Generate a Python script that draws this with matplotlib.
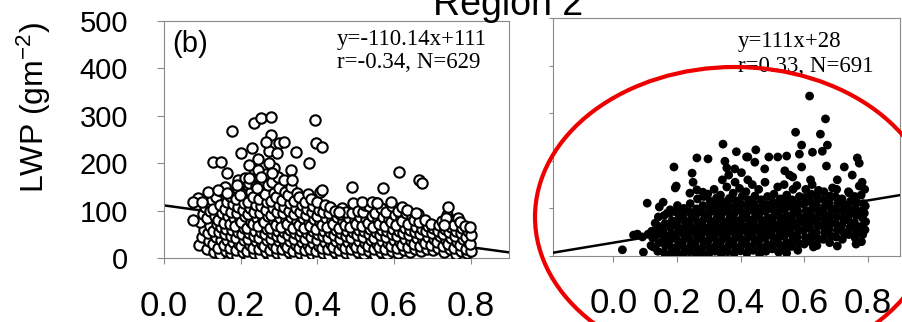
import matplotlib
matplotlib.use('Agg')
import matplotlib.pyplot as plt
import numpy as np
from matplotlib.patches import Ellipse

plt.rcParams['font.family'] = ['Liberation Sans', 'DejaVu Sans']
plt.rcParams['mathtext.fontset'] = 'custom'
plt.rcParams['mathtext.rm'] = 'Liberation Sans'
plt.rcParams['mathtext.it'] = 'Liberation Sans:italic'
plt.rcParams['mathtext.bf'] = 'Liberation Sans:bold'

# ---------------- data ----------------
title_text = "Region 2"
ylabel_text = "LWP (gm$^{-2}$)"
x_ticks = [0.0, 0.2, 0.4, 0.6, 0.8]
x_tick_labels = ["0.0", "0.2", "0.4", "0.6", "0.8"]
y_ticks = [0, 100, 200, 300, 400, 500]
y_tick_labels = ["0", "100", "200", "300", "400", "500"]

left_slope, left_icept = -110.14, 111
right_slope, right_icept = 111, 28
left_eq = ["y=-110.14x+111", "r=-0.34, N=629"]
right_eq = ["y=111x+28", "r=0.33, N=691"]
panel_label = "(b)"

# Left panel (open circles): isolated points
open_out_x = [0.075, 0.088, 0.075, 0.099, 0.114, 0.127, 0.148, 0.164, 0.177, 0.140,
              0.164, 0.190, 0.197, 0.200, 0.229, 0.236, 0.254, 0.278, 0.280, 0.267,
              0.301, 0.314, 0.345, 0.294, 0.223, 0.244, 0.275, 0.283, 0.332, 0.335,
              0.223, 0.242, 0.254, 0.395, 0.397, 0.413, 0.379, 0.413, 0.491, 0.571,
              0.613, 0.665, 0.673, 0.740, 0.592, 0.620, 0.634, 0.657, 0.457, 0.517,
              0.543, 0.556, 0.735, 0.730, 0.190]
open_out_y = [80, 127, 118, 118, 139, 203, 203, 179, 268, 143,
              137, 148, 133, 222, 232, 285, 295, 297, 259, 245,
              243, 245, 224, 221, 196, 186, 200, 179, 186, 165,
              169, 148, 171, 291, 243, 234, 200, 143, 150, 148,
              182, 165, 158, 108, 118, 108, 101, 95, 97, 118,
              118, 116, 84, 70, 154]

# Left panel (open circles): dense core
open_core_x = [
    0.092, 0.098, 0.104, 0.095, 0.101, 0.108,
    0.112, 0.118, 0.115, 0.121, 0.113, 0.119, 0.124,
    0.131, 0.127, 0.135, 0.129, 0.137, 0.133, 0.128, 0.136,
    0.146, 0.142, 0.150, 0.144, 0.148, 0.141, 0.152, 0.145, 0.149,
    0.161, 0.157, 0.165, 0.159, 0.163, 0.156, 0.167, 0.160, 0.164, 0.158,
    0.176, 0.172, 0.180, 0.174, 0.178, 0.171, 0.182, 0.175, 0.179, 0.173,
    0.191, 0.187, 0.195, 0.189, 0.193, 0.186, 0.197, 0.190, 0.194, 0.188, 0.196, 0.192,
    0.206, 0.202, 0.210, 0.204, 0.208, 0.201, 0.212, 0.205, 0.209, 0.203, 0.211,
    0.221, 0.217, 0.225, 0.219, 0.223, 0.216, 0.227, 0.220, 0.224, 0.218, 0.226, 0.222,
    0.236, 0.232, 0.240, 0.234, 0.238, 0.231, 0.242, 0.235, 0.239, 0.233, 0.241, 0.237,
    0.251, 0.247, 0.255, 0.249, 0.253, 0.246, 0.257, 0.250, 0.254, 0.248, 0.256, 0.252, 0.245,
    0.266, 0.262, 0.270, 0.264, 0.268, 0.261, 0.272, 0.265, 0.269, 0.263, 0.271, 0.267,
    0.281, 0.277, 0.285, 0.279, 0.283, 0.276, 0.287, 0.280, 0.284, 0.278, 0.286, 0.282, 0.288, 0.275,
    0.296, 0.292, 0.300, 0.294, 0.298, 0.291, 0.302, 0.295, 0.299, 0.293, 0.301, 0.297,
    0.311, 0.307, 0.315, 0.309, 0.313, 0.306, 0.317, 0.310, 0.314, 0.308, 0.316, 0.312,
    0.326, 0.322, 0.330, 0.324, 0.328, 0.321, 0.332, 0.325, 0.329, 0.323, 0.331,
    0.341, 0.337, 0.345, 0.339, 0.343, 0.336, 0.347, 0.340, 0.344, 0.338, 0.346,
    0.356, 0.352, 0.360, 0.354, 0.358, 0.351, 0.362, 0.355, 0.359, 0.353,
    0.371, 0.367, 0.375, 0.369, 0.373, 0.366, 0.377, 0.370, 0.374, 0.368, 0.376,
    0.386, 0.382, 0.390, 0.384, 0.388, 0.381, 0.392, 0.385, 0.389, 0.383,
    0.401, 0.397, 0.405, 0.399, 0.403, 0.396, 0.407, 0.400, 0.404, 0.398, 0.406,
    0.416, 0.412, 0.420, 0.414, 0.418, 0.411, 0.422, 0.415, 0.419,
    0.431, 0.427, 0.435, 0.429, 0.433, 0.426, 0.437, 0.430, 0.434,
    0.446, 0.442, 0.450, 0.444, 0.448, 0.441, 0.452, 0.445,
    0.461, 0.457, 0.465, 0.459, 0.463, 0.456, 0.467, 0.460, 0.464,
    0.476, 0.472, 0.480, 0.474, 0.478, 0.471, 0.482, 0.475,
    0.491, 0.487, 0.495, 0.489, 0.493, 0.486, 0.497, 0.490, 0.494,
    0.506, 0.502, 0.510, 0.504, 0.508, 0.501, 0.512, 0.505,
    0.521, 0.517, 0.525, 0.519, 0.523, 0.516, 0.527, 0.520, 0.524,
    0.536, 0.532, 0.540, 0.534, 0.538, 0.531, 0.542, 0.535,
    0.551, 0.547, 0.555, 0.549, 0.553, 0.546, 0.557, 0.550, 0.554,
    0.566, 0.562, 0.570, 0.564, 0.568, 0.561, 0.572, 0.565,
    0.581, 0.577, 0.585, 0.579, 0.583, 0.576, 0.587, 0.580,
    0.596, 0.592, 0.600, 0.594, 0.598, 0.591, 0.602, 0.595,
    0.611, 0.607, 0.615, 0.609, 0.613, 0.606, 0.617, 0.610,
    0.626, 0.622, 0.630, 0.624, 0.628, 0.621, 0.632,
    0.641, 0.637, 0.645, 0.639, 0.643, 0.636, 0.647,
    0.656, 0.652, 0.660, 0.654, 0.658, 0.651, 0.662,
    0.671, 0.667, 0.675, 0.669, 0.673, 0.666,
    0.686, 0.682, 0.690, 0.684, 0.688, 0.681,
    0.701, 0.697, 0.705, 0.699, 0.703, 0.696,
    0.716, 0.712, 0.720, 0.714, 0.718,
    0.731, 0.727, 0.735, 0.729, 0.733, 0.726, 0.737,
    0.746, 0.742, 0.750, 0.744, 0.748, 0.741,
    0.761, 0.757, 0.765, 0.759, 0.763, 0.756, 0.767,
    0.776, 0.772, 0.780, 0.774, 0.778, 0.771,
    0.791, 0.787, 0.795, 0.789, 0.793, 0.786,
    0.800, 0.798, 0.802, 0.797,
]
open_core_y = [
    28, 45, 60, 75, 92, 108,
    18, 36, 52, 67, 84, 99, 122,
    12, 29, 44, 58, 71, 88, 104, 128,
    8, 22, 39, 54, 66, 81, 95, 112, 141,
    15, 27, 38, 50, 62, 74, 89, 103, 119, 150,
    10, 21, 34, 47, 59, 71, 85, 97, 114, 131,
    5, 17, 30, 43, 55, 67, 80, 94, 108, 124, 143, 165,
    12, 25, 37, 50, 63, 75, 88, 101, 117, 134, 168,
    3, 15, 28, 40, 52, 64, 77, 92, 105, 119, 139, 159,
    10, 22, 35, 47, 58, 72, 85, 98, 112, 129, 151, 184,
    6, 18, 30, 42, 55, 68, 80, 95, 110, 125, 142, 163, 209,
    12, 25, 38, 50, 62, 75, 88, 102, 118, 135, 155, 177,
    4, 16, 28, 40, 52, 64, 78, 90, 105, 120, 138, 160, 189, 226,
    10, 22, 35, 46, 58, 70, 84, 98, 112, 128, 148, 171,
    6, 18, 30, 42, 54, 66, 80, 94, 108, 122, 140, 164,
    12, 24, 36, 48, 60, 72, 86, 100, 115, 132, 150,
    5, 15, 28, 40, 52, 64, 78, 92, 106, 120, 138,
    10, 22, 34, 46, 58, 70, 84, 98, 112, 128,
    4, 16, 28, 40, 52, 64, 76, 90, 104, 118, 135,
    8, 20, 32, 44, 56, 68, 82, 96, 110, 125,
    3, 14, 26, 38, 50, 62, 75, 88, 102, 118, 140,
    10, 22, 34, 46, 58, 70, 84, 98, 112,
    6, 18, 30, 42, 54, 66, 80, 95, 108,
    12, 24, 36, 48, 60, 72, 86, 100,
    5, 16, 28, 40, 52, 64, 78, 92, 105,
    10, 22, 34, 46, 58, 70, 84, 98,
    6, 18, 30, 42, 54, 66, 80, 95, 115,
    12, 24, 36, 48, 60, 72, 86, 100,
    8, 20, 32, 44, 56, 68, 82, 96, 112,
    14, 26, 38, 50, 62, 74, 88, 110,
    6, 18, 30, 42, 54, 66, 80, 94, 115,
    12, 24, 36, 48, 60, 72, 86, 105,
    8, 20, 32, 44, 56, 68, 82, 98,
    14, 26, 38, 50, 62, 75, 90, 110,
    10, 22, 34, 46, 58, 70, 84, 100,
    16, 28, 40, 52, 64, 78, 95,
    12, 24, 36, 48, 60, 72, 88,
    18, 30, 42, 54, 66, 80, 92,
    14, 26, 38, 50, 62, 75,
    20, 32, 44, 56, 68, 80,
    16, 28, 40, 52, 64, 72,
    22, 34, 46, 58, 70,
    12, 26, 38, 50, 62, 78, 90,
    18, 30, 42, 54, 66, 82,
    8, 22, 34, 46, 58, 70, 85,
    14, 28, 40, 52, 64, 75,
    10, 20, 32, 44, 56, 68,
    15, 30, 48, 65,
]

# Right panel (filled dots): isolated points
fill_out_x = [0.616, 0.666, 0.572, 0.650, 0.591, 0.672, 0.584, 0.625, 0.656, 0.447,
              0.422, 0.444, 0.488, 0.516, 0.544, 0.475, 0.538, 0.553, 0.563, 0.591,
              0.669, 0.619, 0.725, 0.766, 0.750, 0.781, 0.772, 0.703, 0.688, 0.762,
              0.780, 0.762, 0.703, 0.628, 0.544, 0.678, 0.709, 0.638, 0.741, 0.762,
              0.344, 0.386, 0.418, 0.262, 0.297, 0.190, 0.247, 0.350, 0.356, 0.381,
              0.250, 0.197, 0.194, 0.240, 0.262, 0.281, 0.106, 0.156, 0.144, 0.141,
              0.169, 0.131, 0.137, 0.063, 0.091, 0.109, 0.028, 0.094, 0.125, 0.178,
              0.200, 0.219, 0.075, 0.772]
fill_out_y = [336, 288, 260, 256, 233, 233, 214, 218, 220, 223,
              208, 197, 208, 208, 210, 183, 179, 170, 166, 187,
              189, 160, 187, 206, 170, 155, 147, 160, 143, 61,
              48, 25, 21, 19, 6, 69, 61, 128, 132, 111,
              235, 219, 208, 206, 204, 187, 174, 199, 185, 183,
              155, 147, 143, 132, 139, 134, 111, 113, 103, 82,
              90, 69, 59, 44, 40, 46, 13, 8, 19, 97,
              97, 86, 46, 195]

# Right panel (filled dots): dense core
fill_core_x = [
    0.118, 0.123, 0.120,
    0.139, 0.143, 0.137, 0.142,
    0.158, 0.163, 0.160, 0.156, 0.162, 0.159,
    0.178, 0.182, 0.176, 0.181, 0.179, 0.184, 0.177,
    0.199, 0.203, 0.197, 0.202, 0.200, 0.205, 0.198, 0.201,
    0.219, 0.223, 0.217, 0.222, 0.220, 0.225, 0.218, 0.221,
    0.239, 0.243, 0.237, 0.242, 0.240, 0.245, 0.238, 0.241,
    0.259, 0.263, 0.257, 0.262, 0.260, 0.265, 0.258, 0.261, 0.264,
    0.279, 0.283, 0.277, 0.282, 0.280, 0.285, 0.278, 0.281, 0.284,
    0.299, 0.303, 0.297, 0.302, 0.300, 0.305, 0.298, 0.301, 0.304, 0.296,
    0.319, 0.323, 0.317, 0.322, 0.320, 0.325, 0.318, 0.321, 0.324, 0.316,
    0.339, 0.343, 0.337, 0.342, 0.340, 0.345, 0.338, 0.341, 0.344, 0.336, 0.342,
    0.359, 0.363, 0.357, 0.362, 0.360, 0.365, 0.358, 0.361, 0.364, 0.356, 0.362,
    0.379, 0.383, 0.377, 0.382, 0.380, 0.385, 0.378, 0.381, 0.384, 0.376, 0.382,
    0.399, 0.403, 0.397, 0.402, 0.400, 0.405, 0.398, 0.401, 0.404, 0.396, 0.402,
    0.419, 0.423, 0.417, 0.422, 0.420, 0.425, 0.418, 0.421, 0.424, 0.416, 0.422,
    0.439, 0.443, 0.437, 0.442, 0.440, 0.445, 0.438, 0.441, 0.444, 0.436,
    0.459, 0.463, 0.457, 0.462, 0.460, 0.465, 0.458, 0.461, 0.464, 0.456,
    0.479, 0.483, 0.477, 0.482, 0.480, 0.485, 0.478, 0.481, 0.484, 0.476,
    0.499, 0.503, 0.497, 0.502, 0.500, 0.505, 0.498, 0.501, 0.504,
    0.519, 0.523, 0.517, 0.522, 0.520, 0.525, 0.518, 0.521, 0.524, 0.516,
    0.539, 0.543, 0.537, 0.542, 0.540, 0.545, 0.538, 0.541, 0.544, 0.536,
    0.559, 0.563, 0.557, 0.562, 0.560, 0.565, 0.558, 0.561, 0.564,
    0.579, 0.583, 0.577, 0.582, 0.580, 0.585, 0.578, 0.581, 0.584, 0.576,
    0.599, 0.603, 0.597, 0.602, 0.600, 0.605, 0.598, 0.601, 0.604,
    0.619, 0.623, 0.617, 0.622, 0.620, 0.625, 0.618, 0.621, 0.624,
    0.639, 0.643, 0.637, 0.642, 0.640, 0.645, 0.638, 0.641, 0.644,
    0.659, 0.663, 0.657, 0.662, 0.660, 0.665, 0.658, 0.661,
    0.679, 0.683, 0.677, 0.682, 0.680, 0.685, 0.678, 0.681,
    0.699, 0.703, 0.697, 0.702, 0.700, 0.705, 0.698, 0.701,
    0.719, 0.723, 0.717, 0.722, 0.720, 0.725, 0.718,
    0.739, 0.743, 0.737, 0.742, 0.740, 0.745, 0.738,
    0.759, 0.763, 0.757, 0.762, 0.760, 0.765, 0.758,
    0.779, 0.783, 0.777, 0.782, 0.780, 0.785, 0.778,
    0.790, 0.792, 0.788, 0.791, 0.789,
]
fill_core_y = [
    22, 38, 52,
    10, 28, 45, 62,
    8, 22, 38, 52, 68, 85,
    4, 18, 32, 46, 60, 74, 90,
    8, 22, 36, 50, 64, 78, 92, 106,
    3, 16, 30, 44, 58, 72, 86, 100,
    9, 23, 37, 51, 65, 79, 93, 110,
    2, 15, 29, 43, 57, 71, 85, 99, 120,
    8, 22, 36, 50, 64, 78, 92, 106, 125,
    4, 17, 31, 45, 59, 73, 87, 101, 115, 130,
    10, 24, 38, 52, 66, 80, 94, 108, 122, 140,
    3, 16, 30, 44, 58, 72, 86, 100, 114, 128, 160,
    9, 23, 37, 51, 65, 79, 93, 107, 121, 145, 170,
    5, 18, 32, 46, 60, 74, 88, 102, 116, 132, 155,
    11, 25, 39, 53, 67, 81, 95, 109, 125, 142, 175,
    6, 20, 34, 48, 62, 76, 90, 104, 118, 135, 160,
    12, 26, 40, 54, 68, 82, 96, 110, 126, 150,
    4, 18, 32, 46, 60, 74, 88, 102, 118, 140,
    10, 24, 38, 52, 66, 80, 94, 108, 125, 155,
    15, 29, 43, 57, 71, 85, 99, 113, 130,
    8, 22, 36, 50, 64, 78, 92, 106, 120, 145,
    14, 28, 42, 56, 70, 84, 98, 112, 128, 150,
    20, 34, 48, 62, 76, 90, 104, 118, 140,
    12, 26, 40, 54, 68, 82, 96, 110, 125, 148,
    25, 39, 53, 67, 81, 95, 109, 123, 140,
    30, 44, 58, 72, 86, 100, 114, 130, 150,
    22, 36, 50, 64, 78, 92, 106, 120, 138,
    35, 49, 63, 77, 91, 105, 119, 135,
    28, 42, 56, 70, 84, 98, 112, 126,
    40, 54, 68, 82, 96, 110, 124, 140,
    35, 50, 65, 80, 95, 108, 120,
    45, 60, 75, 88, 100, 115, 135,
    38, 52, 70, 85, 98, 112, 125,
    30, 45, 62, 80, 95, 110, 128,
    55, 72, 90, 105, 140,
]

assert len(open_out_x) == len(open_out_y), (len(open_out_x), len(open_out_y))
assert len(open_core_x) == len(open_core_y), (len(open_core_x), len(open_core_y))
assert len(fill_out_x) == len(fill_out_y), (len(fill_out_x), len(fill_out_y))
assert len(fill_core_x) == len(fill_core_y), (len(fill_core_x), len(fill_core_y))

# ---------------- figure ----------------
W, H = 903, 322
fig = plt.figure(figsize=(W / 100, H / 100), dpi=100)
axL = fig.add_axes([164 / W, 1 - 258 / H, 345 / W, 237 / H])
axR = fig.add_axes([553 / W, 1 - 256 / H, 347 / W, 238 / H])

spine_col = '#8a8a8a'
for ax in (axL, axR):
    for s in ax.spines.values():
        s.set_color(spine_col)
        s.set_linewidth(0.8)
    ax.set_ylim(0, 500)
    ax.set_yticks(y_ticks)
    ax.set_xticks(x_ticks)
    ax.tick_params(axis='both', direction='out', color=spine_col, width=0.8)

# Left panel
axL.set_xlim(0, 0.9)
xl = np.array([0, 0.9])
axL.plot(xl, left_slope * xl + left_icept, color='black', lw=1.8, zorder=2)
axL.scatter(open_core_x + open_out_x, open_core_y + open_out_y, s=56,
            facecolors='white', edgecolors='black', linewidths=1.5, zorder=3)
axL.set_xticklabels(x_tick_labels, fontsize=25)
axL.set_yticklabels(y_tick_labels, fontsize=21)
axL.tick_params(axis='y', length=5, pad=21)
axL.tick_params(axis='x', length=4, pad=19)
axL.text(0.023, 0.87, panel_label, transform=axL.transAxes, fontsize=21,
         ha='left', va='baseline')
axL.text(0.501, 0.899, left_eq[0], transform=axL.transAxes, fontsize=16.5,
         family='Liberation Serif', ha='left', va='baseline')
axL.text(0.501, 0.802, left_eq[1], transform=axL.transAxes, fontsize=16.5,
         family='Liberation Serif', ha='left', va='baseline')

# Right panel
axR.set_xlim(-0.19, 0.9)
xr = np.array([-0.19, 0.9])
axR.scatter(fill_core_x + fill_out_x, fill_core_y + fill_out_y, s=40,
            color='black', edgecolors='none', zorder=3)
axR.plot(xr, right_slope * xr + right_icept, color='black', lw=1.8, zorder=4)
axR.set_xticklabels(x_tick_labels, fontsize=25)
axR.set_yticklabels([])
axR.tick_params(axis='y', length=3)
axR.tick_params(axis='x', length=4, pad=18)
axR.text(0.533, 0.878, right_eq[0], transform=axR.transAxes, fontsize=16.5,
         family='Liberation Serif', ha='left', va='baseline')
axR.text(0.533, 0.773, right_eq[1], transform=axR.transAxes, fontsize=16.5,
         family='Liberation Serif', ha='left', va='baseline')

# Title and y label
fig.text(508 / W, 1 - 15 / H, title_text, fontsize=27, ha='center', va='baseline')
fig.text(34 / W, 1 - 108 / H, ylabel_text, fontsize=23, rotation=90,
         ha='center', va='center')

# Red highlight ellipse
ell = Ellipse((735 / W, 1 - 217 / H), 400 / W, 300 / H, transform=fig.transFigure,
              fill=False, edgecolor='#ee0000', linewidth=3.0, clip_on=False, zorder=10)
fig.add_artist(ell)

fig.savefig('out.png', dpi=100)
